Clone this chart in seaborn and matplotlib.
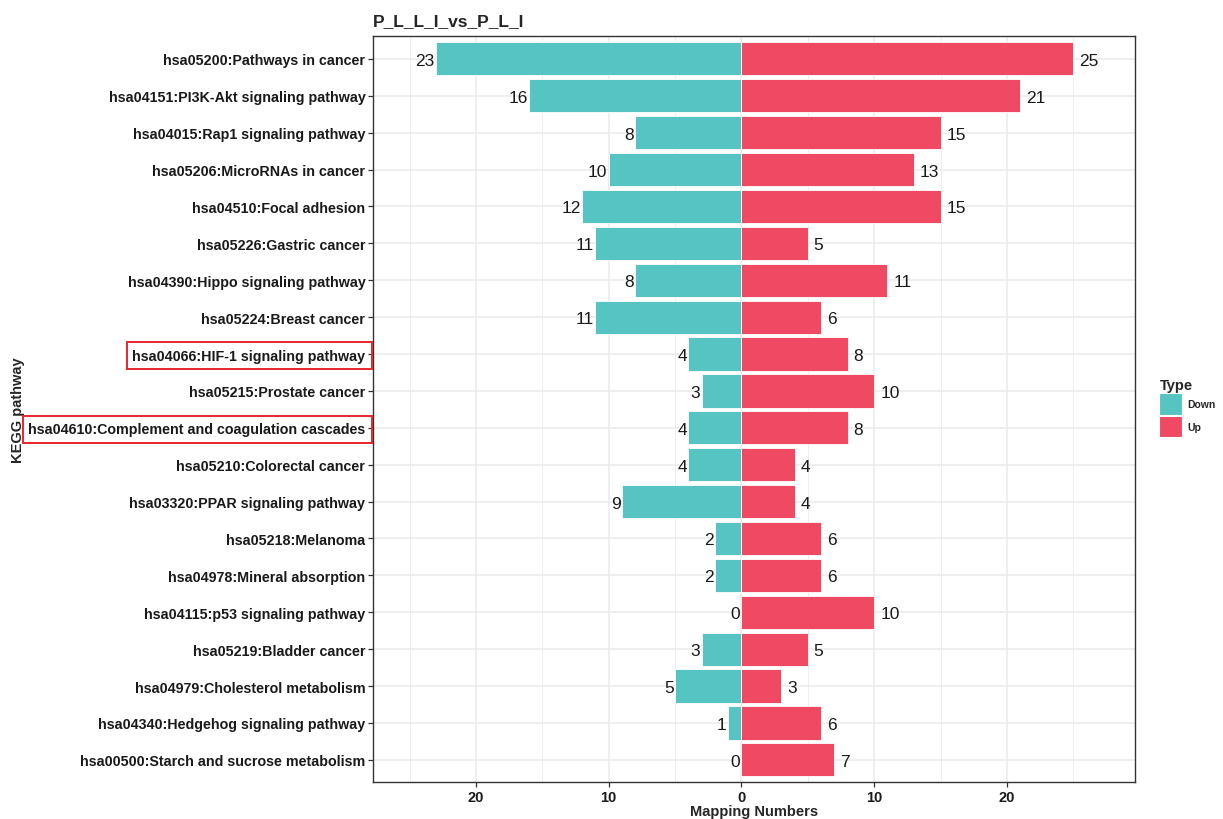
import matplotlib
matplotlib.use("Agg")
import matplotlib.pyplot as plt
from matplotlib.patches import Rectangle, Patch
from matplotlib.ticker import FixedLocator, FuncFormatter
import seaborn as sns
import pandas as pd

pathways = [
    "hsa05200:Pathways in cancer",
    "hsa04151:PI3K-Akt signaling pathway",
    "hsa04015:Rap1 signaling pathway",
    "hsa05206:MicroRNAs in cancer",
    "hsa04510:Focal adhesion",
    "hsa05226:Gastric cancer",
    "hsa04390:Hippo signaling pathway",
    "hsa05224:Breast cancer",
    "hsa04066:HIF-1 signaling pathway",
    "hsa05215:Prostate cancer",
    "hsa04610:Complement and coagulation cascades",
    "hsa05210:Colorectal cancer",
    "hsa03320:PPAR signaling pathway",
    "hsa05218:Melanoma",
    "hsa04978:Mineral absorption",
    "hsa04115:p53 signaling pathway",
    "hsa05219:Bladder cancer",
    "hsa04979:Cholesterol metabolism",
    "hsa04340:Hedgehog signaling pathway",
    "hsa00500:Starch and sucrose metabolism",
]
down_counts = [23, 16, 8, 10, 12, 11, 8, 11, 4, 3, 4, 4, 9, 2, 2, 0, 3, 5, 1, 0]
up_counts = [25, 21, 15, 13, 15, 5, 11, 6, 8, 10, 8, 4, 4, 6, 6, 10, 5, 3, 6, 7]
highlighted = ["hsa04066:HIF-1 signaling pathway",
               "hsa04610:Complement and coagulation cascades"]
title = "P_L_L_I_vs_P_L_I"

DOWN_COLOR = "#56C4C3"
UP_COLOR = "#EF4964"

sns.set_theme(style="white")
plt.rcParams["font.family"] = ["Liberation Sans", "DejaVu Sans"]

df = pd.DataFrame({
    "pathway": pathways * 2,
    "value": [-v for v in down_counts] + up_counts,
    "Type": ["Down"] * len(pathways) + ["Up"] * len(pathways),
})

W, H = 1223, 820
L, R, T, B = 373, 1135, 37, 783
fig = plt.figure(figsize=(W / 100, H / 100), dpi=100)
ax = fig.add_axes([L / W, 1 - B / H, (R - L) / W, (B - T) / H])

sns.barplot(data=df, x="value", y="pathway", hue="Type", order=pathways,
            hue_order=["Down", "Up"], palette=[DOWN_COLOR, UP_COLOR],
            saturation=1, orient="h", dodge=False, width=0.9,
            edgecolor="white", linewidth=0.6, legend=False, ax=ax, zorder=3)

ax.set_xlim(-27.76, 29.65)
ax.set_ylim(len(pathways) - 0.4, -0.62)

# grid: major and minor lines
ax.xaxis.set_major_locator(FixedLocator([-20, -10, 0, 10, 20]))
ax.xaxis.set_minor_locator(FixedLocator([-25, -15, -5, 5, 15, 25]))
ax.xaxis.set_major_formatter(FuncFormatter(lambda v, p: f"{abs(int(v))}"))
ax.grid(True, which="major", axis="both", color="#EBEBEB", linewidth=1.1, zorder=0)
ax.grid(True, which="minor", axis="x", color="#EBEBEB", linewidth=0.6, zorder=0)
ax.set_axisbelow(True)

for s in ax.spines.values():
    s.set_color("#333333")
    s.set_linewidth(1.0)

ax.tick_params(axis="both", which="major", length=3.5, width=0.9, color="#333333",
               bottom=True, left=True, pad=2)
ax.tick_params(axis="x", which="minor", length=0)
for lbl in ax.get_yticklabels():
    lbl.set_fontweight("bold")
    lbl.set_fontsize(10.25)
    lbl.set_color("#1A1A1A")
for lbl in ax.get_xticklabels():
    lbl.set_fontweight("bold")
    lbl.set_fontsize(10.5)
    lbl.set_color("#1A1A1A")

# value labels at the bar ends
for i, (d, u) in enumerate(zip(down_counts, up_counts)):
    ax.text(-d - 0.1, i, str(d), ha="right", va="center_baseline",
            fontsize=12.5, color="#1A1A1A")
    ax.text(u + 0.45, i, str(u), ha="left", va="center_baseline",
            fontsize=12.5, color="#1A1A1A")

ax.set_xlabel("Mapping Numbers", fontsize=10.5, fontweight="bold", labelpad=0)
ax.set_ylabel("KEGG pathway", fontsize=10.5, fontweight="bold")
ax.yaxis.set_label_coords((25 - L) / (R - L), 0.5)
ax.set_title(title, loc="left", fontsize=12.5, fontweight="bold", pad=8)

# legend
handles = [Patch(facecolor=DOWN_COLOR, edgecolor="white", linewidth=0.8, label="Down"),
           Patch(facecolor=UP_COLOR, edgecolor="white", linewidth=0.8, label="Up")]
leg = fig.legend(handles=handles, title="Type", loc="upper left",
                 bbox_to_anchor=(1150 / W, 1 - 370 / H), frameon=False,
                 handlelength=2.15, handleheight=2.8, handletextpad=0.55,
                 labelspacing=0.1, prop={"weight": "bold", "size": 7.5})
leg.get_title().set_fontweight("bold")
leg.get_title().set_fontsize(10.5)
leg._legend_box.align = "left"

# boxes around highlighted pathway labels
fig.canvas.draw()
renderer = fig.canvas.get_renderer()
inv = fig.transFigure.inverted()
ax_x0 = ax.get_window_extent(renderer).x0
for lbl in ax.get_yticklabels():
    if lbl.get_text() in highlighted:
        bb = lbl.get_window_extent(renderer)
        x0 = bb.x0 - 5
        x1 = ax_x0 - 1
        cy = (bb.y0 + bb.y1) / 2
        y0, y1 = cy - 13.5, cy + 13.5
        (fx0, fy0), (fx1, fy1) = inv.transform([(x0, y0), (x1, y1)])
        fig.add_artist(Rectangle((fx0, fy0), fx1 - fx0, fy1 - fy0,
                                 transform=fig.transFigure, fill=False,
                                 edgecolor="#E8262B", linewidth=1.4))

fig.savefig("out.png", dpi=100)
